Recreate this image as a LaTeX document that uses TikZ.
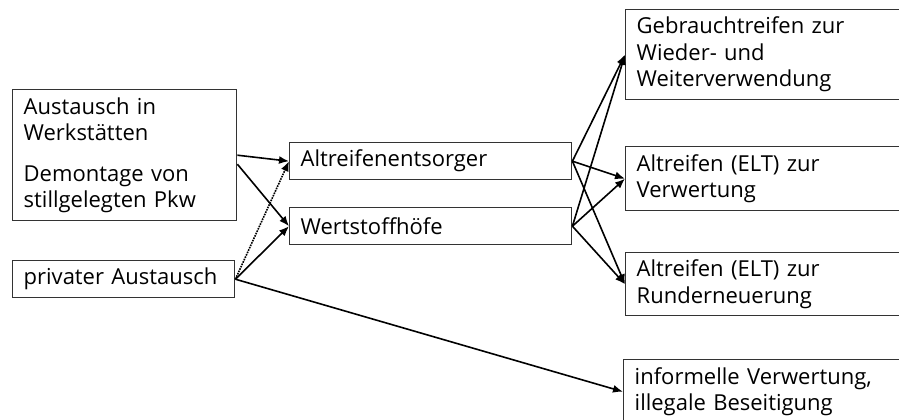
\documentclass[tikz,border=0pt]{standalone}
\usepackage{fontspec}
\setmainfont{Open Sans}
\usetikzlibrary{arrows.meta,calc}

\begin{document}
\begin{tikzpicture}[x=1pt,y=-1pt,
  box/.style={draw=black!80, line width=1.4pt, inner xsep=11pt, inner ysep=0pt,
    anchor=north west, align=left, font=\fontsize{22}{26.5}\selectfont},
  flow/.style={line width=1.6pt, -{Latex[length=10pt,width=8pt]}},
  dotflow/.style={flow, densely dotted}]
\useasboundingbox (0,0) rectangle (899,420);
\clip (0,0) rectangle (899,420);

% sources
\node[box, text width=202pt, minimum height=131pt] (A) at (12,89)
  {Austausch in\\Werkstätten\\[14pt]Demontage von\\stillgelegten Pkw};
\node[box, text width=200pt, minimum height=37pt] (P) at (12,260)
  {privater Austausch};

% collection
\node[box, text width=260pt, minimum height=37pt] (Alt) at (289,142)
  {Altreifenentsorger};
\node[box, text width=260pt, minimum height=37pt] (Wert) at (289,207)
  {Wertstoffhöfe};

% destinations
\node[box, text width=263pt, minimum height=90pt] (Gebr) at (625,9)
  {Gebrauchtreifen zur\\Wieder- und\\Weiterverwendung};
\node[box, text width=263pt, minimum height=64pt] (Verw) at (625,146)
  {Altreifen (ELT) zur\\Verwertung};
\node[box, text width=263pt, minimum height=63pt] (Rund) at (625,252)
  {Altreifen (ELT) zur\\Runderneuerung};
\node[box, text width=265pt, minimum height=64pt] (Inf) at (623,359)
  {informelle Verwertung,\\illegale Beseitigung};

% flows from the sources
\draw[flow] (A.east) -- (Alt.west);
\draw[flow] ($(A.east)+(0,9)$) -- (Wert.west);
\draw[dotflow] (P.east) -- (Alt.west);
\draw[flow] (P.east) -- (Wert.west);
\draw[flow] (P.east) -- (Inf.west);

% flows to the destinations
\foreach \s in {Alt,Wert}
  \foreach \t in {Gebr,Verw,Rund}
    \draw[flow] (\s.east) -- (\t.west);
\end{tikzpicture}
\end{document}
